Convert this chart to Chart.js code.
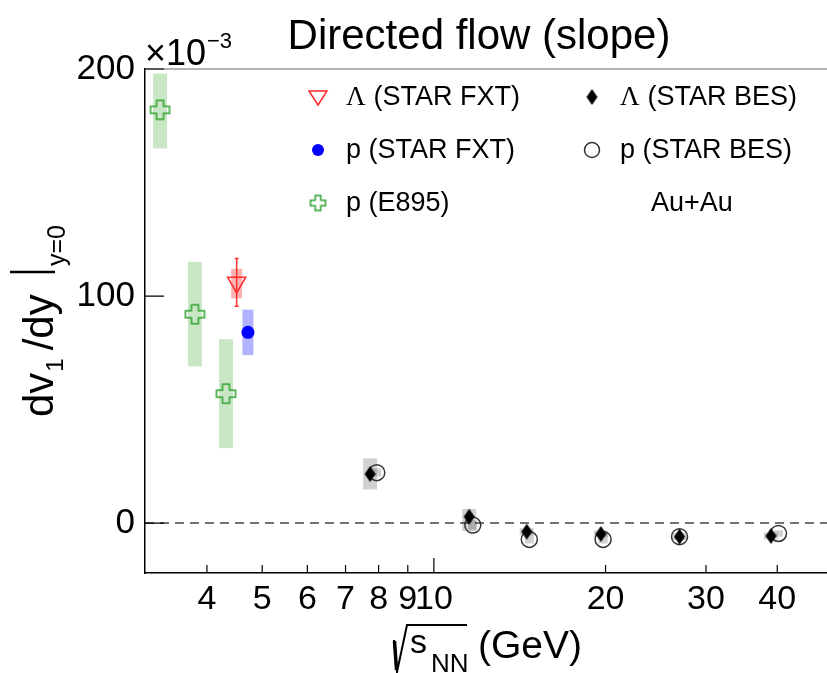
<!DOCTYPE html>
<html>
<head>
<meta charset="utf-8">
<title>Directed flow (slope)</title>
<script src="https://cdn.jsdelivr.net/npm/chart.js@4.4.0/dist/chart.umd.min.js"></script>
<style>
  html, body { margin: 0; padding: 0; background: #fff; }
</style>
</head>
<body>
<canvas id="myChart" width="827" height="673"></canvas>
<script>
// x = sqrt(s_NN) in GeV, y = dv1/dy at y=0 in units of 1e-3
const e895X = [3.31, 3.81, 4.32];
const e895Y = [182, 92, 57];
const e895SysLo = [165, 69, 33];
const e895SysHi = [198, 115, 81];

const lamFxtX = [4.51];
const lamFxtY = [106];
const lamFxtErr = [10.5];
const lamFxtSysLo = [99];
const lamFxtSysHi = [112];

const pFxtX = [4.72];
const pFxtY = [84];
const pFxtSysLo = [74];
const pFxtSysHi = [94];

const lamBesX = [7.73, 11.53, 14.55, 19.63, 26.96, 39.0];
const lamBesY = [21.6, 2.8, -3.8, -4.8, -6.0, -5.7];
const lamBesSysLo = [14.8, -3.5, -5.3, -6.3, -7.5, -7.2];
const lamBesSysHi = [28.5, 6.2, -2.3, -3.3, -4.5, -4.2];

const pBesX = [7.94, 11.7, 14.7, 19.8, 26.96, 40.2];
const pBesY = [22.2, -0.9, -7.2, -7.2, -6.0, -4.6];
const pBesSysLo = [20.5, -3.0, -9.0, -9.0, -7.5, -6.0];
const pBesSysHi = [24.0, 1.2, -3.8, -4.0, -4.5, -3.2];

const xTicks = [4, 5, 6, 7, 8, 9, 10, 20, 30, 40];
const yTicks = [0, 100, 200];

const FONT = '"Liberation Sans", Arial, Helvetica, sans-serif';
const SERIF = '"Liberation Serif", "Times New Roman", serif';

function pts(xs, ys) {
    return xs.map((x, i) => ({ x: x, y: ys[i] }));
}

// open plus marker (E895)
function makeCross(half, arm, color) {
    const c = document.createElement('canvas');
    const s = Math.ceil(half * 2 + 4);
    c.width = s; c.height = s;
    const g = c.getContext('2d');
    const m = s / 2;
    g.strokeStyle = color;
    g.lineWidth = 1.5;
    g.beginPath();
    g.moveTo(m - arm, m - half);
    g.lineTo(m + arm, m - half);
    g.lineTo(m + arm, m - arm);
    g.lineTo(m + half, m - arm);
    g.lineTo(m + half, m + arm);
    g.lineTo(m + arm, m + arm);
    g.lineTo(m + arm, m + half);
    g.lineTo(m - arm, m + half);
    g.lineTo(m - arm, m + arm);
    g.lineTo(m - half, m + arm);
    g.lineTo(m - half, m - arm);
    g.lineTo(m - arm, m - arm);
    g.closePath();
    g.stroke();
    return c;
}

// filled tall diamond (Lambda BES)
function makeDiamond(w, h) {
    const c = document.createElement('canvas');
    c.width = w + 2; c.height = h + 2;
    const g = c.getContext('2d');
    g.fillStyle = '#000';
    g.beginPath();
    g.moveTo(c.width / 2, 1);
    g.lineTo(c.width - 1, c.height / 2);
    g.lineTo(c.width / 2, c.height - 1);
    g.lineTo(1, c.height / 2);
    g.closePath();
    g.fill();
    return c;
}

const GREEN = '#2fa32f';
const crossImg = makeCross(9.5, 3.5, GREEN);
const crossLegend = makeCross(7.5, 2.8, GREEN);
const diamondImg = makeDiamond(11, 16);

const sysBoxes = [
    { xs: e895X, lo: e895SysLo, hi: e895SysHi, w: 14, color: 'rgba(60,165,40,0.27)' },
    { xs: lamFxtX, lo: lamFxtSysLo, hi: lamFxtSysHi, w: 11, color: 'rgba(255,0,0,0.3)' },
    { xs: pFxtX, lo: pFxtSysLo, hi: pFxtSysHi, w: 11, color: 'rgba(0,0,255,0.3)' },
    { xs: lamBesX, lo: lamBesSysLo, hi: lamBesSysHi, w: 14, color: 'rgba(0,0,0,0.18)' },
    { xs: pBesX, lo: pBesSysLo, hi: pBesSysHi, w: 9, color: 'rgba(0,0,0,0.18)' }
];

const decor = {
    id: 'decor',
    beforeDatasetsDraw(chart) {
        const ctx = chart.ctx;
        const a = chart.chartArea;
        const xs = chart.scales.x;
        const ys = chart.scales.y;
        ctx.save();

        // top frame
        ctx.strokeStyle = '#666';
        ctx.lineWidth = 1.2;
        ctx.beginPath();
        ctx.moveTo(a.left, a.top);
        ctx.lineTo(a.right, a.top);
        ctx.stroke();

        // zero line
        const y0 = ys.getPixelForValue(0);
        ctx.strokeStyle = '#444';
        ctx.lineWidth = 1.5;
        ctx.setLineDash([9, 6]);
        ctx.beginPath();
        ctx.moveTo(a.left, y0);
        ctx.lineTo(a.right, y0);
        ctx.stroke();
        ctx.setLineDash([]);

        // systematic boxes
        sysBoxes.forEach(b => {
            ctx.fillStyle = b.color;
            b.xs.forEach((x, i) => {
                const px = xs.getPixelForValue(x);
                const top = ys.getPixelForValue(b.hi[i]);
                const bot = ys.getPixelForValue(b.lo[i]);
                ctx.fillRect(px - b.w / 2, top, b.w, bot - top);
            });
        });

        // stat error bar, Lambda FXT
        ctx.strokeStyle = '#ff3030';
        ctx.lineWidth = 1.5;
        lamFxtX.forEach((x, i) => {
            const px = xs.getPixelForValue(x);
            const t = ys.getPixelForValue(lamFxtY[i] + lamFxtErr[i]);
            const b = ys.getPixelForValue(lamFxtY[i] - lamFxtErr[i]);
            ctx.beginPath();
            ctx.moveTo(px, t); ctx.lineTo(px, b);
            ctx.moveTo(px - 2, t); ctx.lineTo(px + 2, t);
            ctx.moveTo(px - 2, b); ctx.lineTo(px + 2, b);
            ctx.stroke();
        });
        ctx.restore();
    },
    afterDraw(chart) {
        const ctx = chart.ctx;
        const a = chart.chartArea;
        const xs = chart.scales.x;
        const ys = chart.scales.y;
        ctx.save();

        // inward tick marks
        ctx.strokeStyle = '#000';
        ctx.lineWidth = 1.2;
        ctx.beginPath();
        xTicks.forEach(v => {
            const px = xs.getPixelForValue(v);
            const len = v === 10 ? 15 : 8;
            ctx.moveTo(px, a.bottom);
            ctx.lineTo(px, a.bottom - len);
        });
        yTicks.forEach(v => {
            const py = ys.getPixelForValue(v);
            ctx.moveTo(a.left, py);
            ctx.lineTo(a.left + 19, py);
        });
        ctx.stroke();

        ctx.fillStyle = '#000';
        ctx.textBaseline = 'alphabetic';
        ctx.textAlign = 'left';

        // title
        ctx.font = '42px ' + FONT;
        ctx.textAlign = 'center';
        ctx.fillText('Directed flow (slope)', 479, 49);
        ctx.textAlign = 'left';

        // x10^-3 exponent
        ctx.font = '36px ' + FONT;
        ctx.fillText('\u00d710', 145, 65);
        ctx.font = '22px ' + FONT;
        ctx.fillText('\u22123', 207, 48);

        // x-axis title: sqrt(s_NN) (GeV)
        ctx.lineWidth = 2;
        ctx.beginPath();
        ctx.moveTo(394, 640);
        ctx.lineTo(397, 672);
        ctx.lineTo(407, 625);
        ctx.lineTo(467, 625);
        ctx.stroke();
        ctx.lineWidth = 3.5;
        ctx.beginPath();
        ctx.moveTo(394.5, 641);
        ctx.lineTo(396.5, 670);
        ctx.stroke();
        ctx.font = '34px ' + FONT;
        ctx.fillText('s', 410, 653);
        ctx.font = '26px ' + FONT;
        ctx.fillText('NN', 431, 672);
        ctx.font = '39px ' + FONT;
        ctx.fillText('(GeV)', 478, 658);

        // y-axis title: dv1/dy |y=0
        ctx.save();
        ctx.translate(53, 417);
        ctx.rotate(-Math.PI / 2);
        let cx = 0;
        ctx.font = '42px ' + FONT;
        ctx.fillText('dv', cx, 0);
        cx += ctx.measureText('dv').width + 1;
        ctx.font = '24px ' + FONT;
        ctx.fillText('1', cx, 10);
        cx += ctx.measureText('1').width + 8;
        ctx.font = '42px ' + FONT;
        ctx.fillText('/dy', cx, 0);
        ctx.lineWidth = 2.5;
        ctx.beginPath();
        ctx.moveTo(145, -43);
        ctx.lineTo(145, 2);
        ctx.stroke();
        ctx.font = '25px ' + FONT;
        ctx.fillText('y=0', 151, 12);
        ctx.restore();

        // legend
        const rows = [97, 150, 203];
        const col1 = 318, col2 = 592, txt1 = 346, txt2 = 620;
        ctx.textBaseline = 'middle';

        // Lambda FXT: open down triangle
        ctx.strokeStyle = '#ff2a2a';
        ctx.lineWidth = 1.5;
        ctx.beginPath();
        ctx.moveTo(col1 - 9, rows[0] - 6);
        ctx.lineTo(col1 + 9, rows[0] - 6);
        ctx.lineTo(col1, rows[0] + 8);
        ctx.closePath();
        ctx.stroke();
        // p FXT: blue dot
        ctx.fillStyle = '#0000ff';
        ctx.beginPath();
        ctx.arc(col1, rows[1], 6, 0, Math.PI * 2);
        ctx.fill();
        // p E895: open cross
        ctx.drawImage(crossLegend, col1 - crossLegend.width / 2, rows[2] - crossLegend.height / 2);
        // Lambda BES: diamond
        ctx.drawImage(diamondImg, col2 - diamondImg.width / 2, rows[0] - diamondImg.height / 2);
        // p BES: open circle
        ctx.strokeStyle = '#333';
        ctx.lineWidth = 1.5;
        ctx.beginPath();
        ctx.arc(col2, rows[1], 7.5, 0, Math.PI * 2);
        ctx.stroke();

        ctx.fillStyle = '#000';
        function lamLabel(x, y, rest) {
            ctx.font = '27px ' + SERIF;
            ctx.fillText('\u039b', x, y);
            const w = ctx.measureText('\u039b').width;
            ctx.font = '27px ' + FONT;
            ctx.fillText(rest, x + w + 8, y);
        }
        lamLabel(txt1, rows[0] + 1, '(STAR FXT)');
        ctx.font = '27px ' + FONT;
        ctx.fillText('p (STAR FXT)', txt1, rows[1] + 1);
        ctx.fillText('p (E895)', txt1, rows[2] + 1);
        lamLabel(txt2, rows[0] + 1, '(STAR BES)');
        ctx.font = '27px ' + FONT;
        ctx.fillText('p (STAR BES)', txt2, rows[1] + 1);
        ctx.fillText('Au+Au', 651, rows[2] + 1);

        ctx.restore();
    }
};

const ctx = document.getElementById('myChart');

const myChart = new Chart(ctx, {
    type: 'scatter',
    data: {
        datasets: [
            {
                label: '\u039b (STAR BES)',
                data: pts(lamBesX, lamBesY),
                pointStyle: diamondImg,
                order: 0
            },
            {
                label: 'p (STAR BES)',
                data: pts(pBesX, pBesY),
                pointStyle: 'circle',
                pointRadius: 8,
                borderColor: '#333',
                borderWidth: 1.5,
                backgroundColor: 'rgba(0,0,0,0)',
                order: 1
            },
            {
                label: '\u039b (STAR FXT)',
                data: pts(lamFxtX, lamFxtY),
                pointStyle: 'triangle',
                rotation: 180,
                pointRadius: 10.5,
                borderColor: '#ff2a2a',
                borderWidth: 1.5,
                backgroundColor: 'rgba(0,0,0,0)',
                order: 2
            },
            {
                label: 'p (STAR FXT)',
                data: pts(pFxtX, pFxtY),
                pointStyle: 'circle',
                pointRadius: 6.5,
                borderWidth: 0,
                backgroundColor: '#0000ff',
                borderColor: '#0000ff',
                order: 3
            },
            {
                label: 'p (E895)',
                data: pts(e895X, e895Y),
                pointStyle: crossImg,
                order: 4
            }
        ]
    },
    options: {
        responsive: false,
        animation: false,
        layout: { autoPadding: false, padding: { top: 69, right: 0, bottom: 0, left: 0 } },
        plugins: {
            legend: { display: false },
            tooltip: { enabled: false }
        },
        scales: {
            x: {
                type: 'logarithmic',
                min: 3.115,
                max: 48.9,
                afterBuildTicks: function (scale) {
                    scale.ticks = xTicks.map(v => ({ value: v }));
                },
                afterFit: function (scale) {
                    scale.height = 100;
                    scale.paddingLeft = 0;
                    scale.paddingRight = 0;
                },
                grid: { display: false, drawTicks: false },
                border: { display: true, color: '#000', width: 1.5 },
                ticks: {
                    autoSkip: false,
                    maxRotation: 0,
                    padding: 6,
                    color: '#000',
                    font: { family: FONT, size: 34 },
                    callback: function (v) { return String(v); }
                }
            },
            y: {
                min: -22,
                max: 200,
                afterBuildTicks: function (scale) {
                    scale.ticks = yTicks.map(v => ({ value: v }));
                },
                afterFit: function (scale) {
                    scale.width = 145;
                    scale.paddingTop = 0;
                    scale.paddingBottom = 0;
                },
                grid: { display: false, drawTicks: false },
                border: { display: true, color: '#000', width: 1.5 },
                ticks: {
                    padding: 10,
                    color: '#000',
                    font: { family: FONT, size: 35 }
                }
            }
        }
    },
    plugins: [decor]
});
</script>
</body>
</html>
